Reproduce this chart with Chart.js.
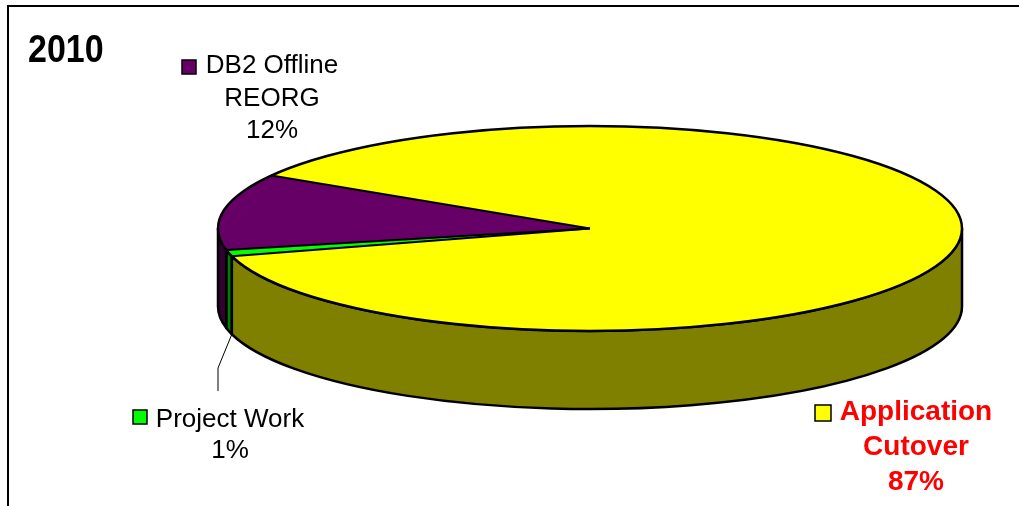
<!DOCTYPE html>
<html>
<head>
<meta charset="utf-8">
<script src="https://cdn.jsdelivr.net/npm/chart.js@4.4.1/dist/chart.umd.min.js"></script>
<style>
html, body { margin: 0; padding: 0; background: #fff; }
#wrap { position: relative; width: 1019px; height: 506px; }
</style>
</head>
<body>
<div id="wrap"><canvas id="pie2010" width="1019" height="506"></canvas></div>
<script>
"use strict";

// data
const title_text = "2010";
const slice_labels = [["Project Work"], ["DB2 Offline", "REORG"], ["Application", "Cutover"]];
const slice_values = [1, 12, 87];
const slice_colors = ["#00ff00", "#660066", "#ffff00"];
const side_colors = ["#008000", "#330033", "#808000"];
const label_colors = ["#000000", "#000000", "#ff0000"];

const regular_font = "26px 'Liberation Sans', Arial, sans-serif";
const bold_font = "bold 28px 'Liberation Sans', Arial, sans-serif";

// label blocks: centre x, first baseline, line step, legend square
const label_pos = [
    { x: 230, y: 427, step: 31, sq: [133, 410, 14], font: regular_font },
    { x: 272, y: 73, step: 32.5, sq: [182, 60, 14], font: regular_font },
    { x: 916, y: 420, step: 35, sq: [815, 405, 16], font: bold_font }
];

const TWO_PI = Math.PI * 2;
const depth = 78;
const edge_width = 2.5;

function pieGeom(chart) {
    const arcs = chart.getDatasetMeta(0).data;
    const a = arcs[0];
    return {
        arcs: arcs,
        cx: a.x,
        cy: a.y,
        rx: chart.chartArea.width / 2,
        ry: a.outerRadius
    };
}

const pie3d = {
    id: "pie3d",
    beforeDatasetsDraw(chart) {
        const ctx = chart.ctx;
        const g = pieGeom(chart);

        // side walls, only the front half is visible
        ctx.save();
        ctx.lineWidth = edge_width;
        ctx.strokeStyle = "#000";
        ctx.lineJoin = "round";
        g.arcs.forEach(function (arc, i) {
            for (let k = -1; k <= 2; k++) {
                const lo = Math.max(arc.startAngle, k * TWO_PI);
                const hi = Math.min(arc.endAngle, k * TWO_PI + Math.PI);
                if (hi <= lo) continue;
                ctx.beginPath();
                ctx.ellipse(g.cx, g.cy, g.rx, g.ry, 0, lo, hi, false);
                ctx.lineTo(g.cx + g.rx * Math.cos(hi), g.cy + g.ry * Math.sin(hi) + depth);
                ctx.ellipse(g.cx, g.cy + depth, g.rx, g.ry, 0, hi, lo, true);
                ctx.closePath();
                ctx.fillStyle = side_colors[i];
                ctx.fill();
                ctx.stroke();
            }
        });
        ctx.restore();

        // stretch the round pie into the flat top face
        ctx.save();
        ctx.translate(g.cx, g.cy);
        ctx.scale(g.rx / g.ry, 1);
        ctx.translate(-g.cx, -g.cy);
    },
    afterDatasetsDraw(chart) {
        const ctx = chart.ctx;
        ctx.restore();
        const g = pieGeom(chart);

        ctx.save();
        ctx.lineWidth = edge_width;
        ctx.strokeStyle = "#000";
        ctx.beginPath();
        ctx.ellipse(g.cx, g.cy, g.rx, g.ry, 0, 0, TWO_PI);
        ctx.stroke();
        ctx.lineWidth = 2;
        g.arcs.forEach(function (arc) {
            ctx.beginPath();
            ctx.moveTo(g.cx, g.cy);
            ctx.lineTo(g.cx + g.rx * Math.cos(arc.startAngle), g.cy + g.ry * Math.sin(arc.startAngle));
            ctx.stroke();
        });

        // leader line for the small slice
        const sm = g.arcs[0];
        const m = (sm.startAngle + sm.endAngle) / 2;
        ctx.lineWidth = 1;
        ctx.beginPath();
        ctx.moveTo(g.cx + g.rx * Math.cos(m) + 3, g.cy + g.ry * Math.sin(m) + depth + 3);
        ctx.lineTo(218, 368);
        ctx.lineTo(218, 391);
        ctx.stroke();
        ctx.restore();
    },
    afterDraw(chart) {
        const ctx = chart.ctx;
        const total = slice_values.reduce(function (s, v) { return s + v; }, 0);
        ctx.save();

        // frame
        ctx.strokeStyle = "#000";
        ctx.lineWidth = 2;
        ctx.beginPath();
        ctx.moveTo(8, 506);
        ctx.lineTo(8, 6);
        ctx.lineTo(1019, 6);
        ctx.stroke();

        // title
        ctx.save();
        ctx.fillStyle = "#000";
        ctx.font = "bold 34px 'Liberation Sans', Arial, sans-serif";
        ctx.textAlign = "left";
        ctx.textBaseline = "alphabetic";
        ctx.translate(28, 62);
        ctx.scale(1, 1.15);
        ctx.fillText(title_text, 0, 0);
        ctx.restore();

        // labels
        ctx.textAlign = "center";
        ctx.textBaseline = "alphabetic";
        slice_labels.forEach(function (lines, i) {
            const p = label_pos[i];
            const pct = Math.round(slice_values[i] / total * 100) + "%";
            const all = lines.concat([pct]);
            ctx.font = p.font;
            ctx.fillStyle = label_colors[i];
            all.forEach(function (t, j) {
                ctx.fillText(t, p.x, p.y + j * p.step);
            });
            ctx.fillStyle = slice_colors[i];
            ctx.fillRect(p.sq[0], p.sq[1], p.sq[2], p.sq[2]);
            ctx.lineWidth = 1.5;
            ctx.strokeStyle = "#000";
            ctx.strokeRect(p.sq[0], p.sq[1], p.sq[2], p.sq[2]);
        });
        ctx.restore();
    }
};

const ctx = document.getElementById("pie2010");
const pie2010 = new Chart(ctx, {
    type: "pie",
    data: {
        labels: slice_labels,
        datasets: [{
            data: slice_values,
            backgroundColor: slice_colors,
            borderWidth: 0,
            hoverOffset: 0
        }]
    },
    options: {
        responsive: false,
        devicePixelRatio: 1,
        animation: false,
        events: [],
        rotation: 254.3,
        layout: {
            padding: { left: 218, right: 57, top: 126, bottom: 175 }
        },
        plugins: {
            legend: { display: false },
            tooltip: { enabled: false }
        }
    },
    plugins: [pie3d]
});
</script>
</body>
</html>
